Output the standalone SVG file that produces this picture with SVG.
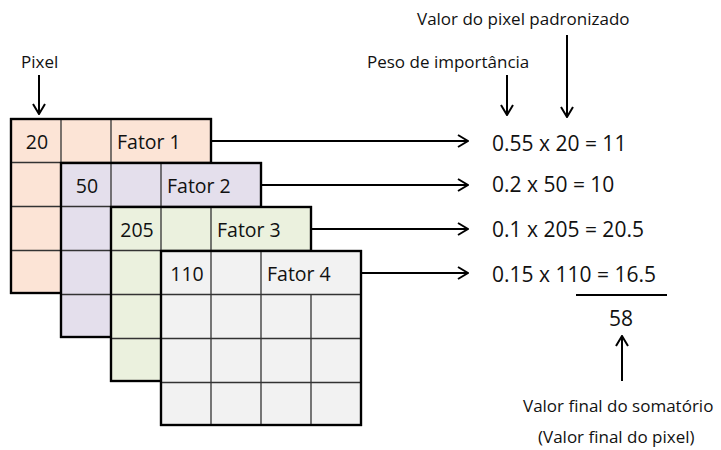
<svg xmlns="http://www.w3.org/2000/svg" width="721" height="450" viewBox="0 0 721 450">
<style>
.t{font-family:"Open Sans","Liberation Sans",sans-serif;fill:#111;}
.lbl{font-size:17px;}
.eq{font-size:21px;}
.cell{font-size:19.5px;}
.outer{stroke:#000;stroke-width:2.2;}
.in{stroke:#333;stroke-width:1.3;fill:none;}
.con{stroke:#000;stroke-width:2;fill:none;}
</style>
<defs>
<marker id="ah" viewBox="0 0 12 14" refX="11" refY="7" markerWidth="12" markerHeight="14" markerUnits="userSpaceOnUse" orient="auto">
<path d="M1,1 L11,7 L1,13" fill="none" stroke="#000" stroke-width="2"/>
</marker>
</defs>
<rect width="721" height="450" fill="#fff"/>

<g id="grid1">
<rect class="outer" x="11" y="119" width="200" height="174" fill="#fce4d6"/>
<path class="in" d="M11,162.5H211M11,206.5H211M11,250.5H211M61,119V293M111,119V293M161,162.5V293"/>
<rect class="outer" x="11" y="119" width="200" height="174" fill="none"/>
<text class="t cell" x="37" y="149" text-anchor="middle">20</text>
<text class="t cell" x="117" y="149">Fator 1</text>
</g>

<g id="grid2">
<rect class="outer" x="61" y="163" width="200" height="174" fill="#e4dfec"/>
<path class="in" d="M61,206.5H261M61,250.5H261M61,294.5H261M111,163V337M161,163V337M211,206.5V337"/>
<rect class="outer" x="61" y="163" width="200" height="174" fill="none"/>
<text class="t cell" x="87" y="193" text-anchor="middle">50</text>
<text class="t cell" x="167" y="193">Fator 2</text>
</g>

<g id="grid3">
<rect class="outer" x="111" y="207" width="200" height="174" fill="#ebf1de"/>
<path class="in" d="M111,250.5H311M111,294.5H311M111,338.5H311M161,207V381M211,207V381M261,250.5V381"/>
<rect class="outer" x="111" y="207" width="200" height="174" fill="none"/>
<text class="t cell" x="137" y="237" text-anchor="middle">205</text>
<text class="t cell" x="217" y="237">Fator 3</text>
</g>

<g id="grid4">
<rect class="outer" x="161" y="251" width="200" height="174" fill="#f2f2f2"/>
<path class="in" d="M161,294.5H361M161,338.5H361M161,382.5H361M211,251V425M261,251V425M311,294.5V425"/>
<rect class="outer" x="161" y="251" width="200" height="174" fill="none"/>
<text class="t cell" x="187" y="281" text-anchor="middle">110</text>
<text class="t cell" x="267" y="281">Fator 4</text>
</g>

<g id="connectors">
<line class="con" x1="211" y1="141" x2="468" y2="141" marker-end="url(#ah)"/>
<line class="con" x1="261" y1="185" x2="468" y2="185" marker-end="url(#ah)"/>
<line class="con" x1="311" y1="229" x2="468" y2="229" marker-end="url(#ah)"/>
<line class="con" x1="361" y1="273" x2="468" y2="273" marker-end="url(#ah)"/>
<line class="con" x1="39" y1="75" x2="39" y2="114" marker-end="url(#ah)"/>
<line class="con" x1="507" y1="75" x2="507" y2="115" marker-end="url(#ah)"/>
<line class="con" x1="567" y1="35" x2="567" y2="117" marker-end="url(#ah)"/>
<line class="con" x1="622" y1="381" x2="622" y2="336" marker-end="url(#ah)"/>
<line x1="576" y1="295" x2="667" y2="295" stroke="#000" stroke-width="2.2"/>
</g>

<g id="labels">
<text class="t lbl" x="21" y="68">Pixel</text>
<text class="t lbl" x="417" y="25">Valor do pixel padronizado</text>
<text class="t lbl" x="367" y="68">Peso de importância</text>
<text class="t eq" x="492" y="151">0.55 x 20 = 11</text>
<text class="t eq" x="492" y="192">0.2 x 50 = 10</text>
<text class="t eq" x="492" y="237">0.1 x 205 = 20.5</text>
<text class="t eq" x="492" y="282">0.15 x 110 = 16.5</text>
<text class="t eq" x="621" y="326" text-anchor="middle">58</text>
<text class="t lbl" x="523" y="412">Valor final do somatório</text>
<text class="t lbl" x="538" y="443">(Valor final do pixel)</text>
</g>
</svg>
